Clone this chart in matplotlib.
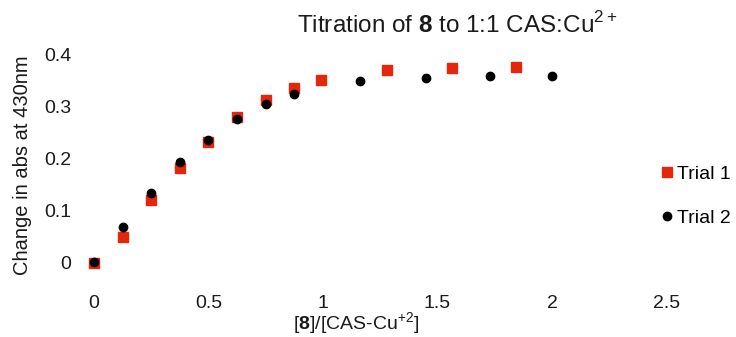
import matplotlib.pyplot as plt

plt.rcParams['font.family'] = ['Liberation Sans', 'DejaVu Sans']
plt.rcParams['mathtext.fontset'] = 'custom'
plt.rcParams['mathtext.rm'] = 'Liberation Sans'
plt.rcParams['mathtext.bf'] = 'Liberation Sans:bold'

# ratio [8]/[CAS-Cu2+] and change in absorbance at 430 nm
x_trial1 = [0, 0.125, 0.25, 0.375, 0.5, 0.625, 0.75, 0.875, 0.99, 1.28, 1.565, 1.845]
y_trial1 = [0.0, 0.05, 0.12, 0.182, 0.233, 0.28, 0.314, 0.336, 0.351, 0.370, 0.374, 0.376]
x_trial2 = [0, 0.125, 0.25, 0.375, 0.5, 0.625, 0.75, 0.875, 1.16, 1.45, 1.73, 2.0]
y_trial2 = [0.002, 0.068, 0.134, 0.193, 0.236, 0.276, 0.305, 0.324, 0.349, 0.355, 0.359, 0.359]

xticks = [0, 0.5, 1, 1.5, 2, 2.5]
yticks = [0, 0.1, 0.2, 0.3, 0.4]

fig = plt.figure(figsize=(7.36, 3.37), dpi=100)
ax = fig.add_axes([0.0966, 0.190, 0.840, 0.678])

ax.plot(x_trial1, y_trial1, 's', color='#E3260C', markersize=6.5, label='Trial 1')
ax.plot(x_trial2, y_trial2, 'o', color='black', markersize=6, label='Trial 2')

ax.set_xlim(-0.1, 2.6)
ax.set_ylim(-0.02, 0.42)
ax.set_xticks(xticks)
ax.set_xticklabels(['0', '0.5', '1', '1.5', '2', '2.5'])
ax.set_yticks(yticks)
ax.set_yticklabels(['0', '0.1', '0.2', '0.3', '0.4'])
ax.tick_params(length=0, labelsize=14, colors='#1a1a1a')
ax.tick_params(axis='x', pad=16)
ax.tick_params(axis='y', pad=0)
for s in ax.spines.values():
    s.set_visible(False)

ax.set_ylabel('Change in abs at 430nm', fontsize=14.5, color='#1a1a1a')
ax.yaxis.set_label_coords(-0.063, 0.47)
ax.set_xlabel(r'[$\mathbf{8}$]/[CAS-Cu$^{+2}$]', fontsize=14, color='#1a1a1a')
ax.xaxis.set_label_coords(0.461, -0.165)

fig.text(0.621, 0.925, r'Titration of $\mathbf{8}$ to 1:1 CAS:Cu$^{2+}$',
         ha='center', va='center', fontsize=17.5, color='#1a1a1a')

ax.legend(loc='center left', bbox_to_anchor=(0.935, 0.335), frameon=False,
          fontsize=14, handletextpad=0.05, labelspacing=1.35, handlelength=1,
          borderaxespad=0)

fig.savefig('out.png', dpi=100)
